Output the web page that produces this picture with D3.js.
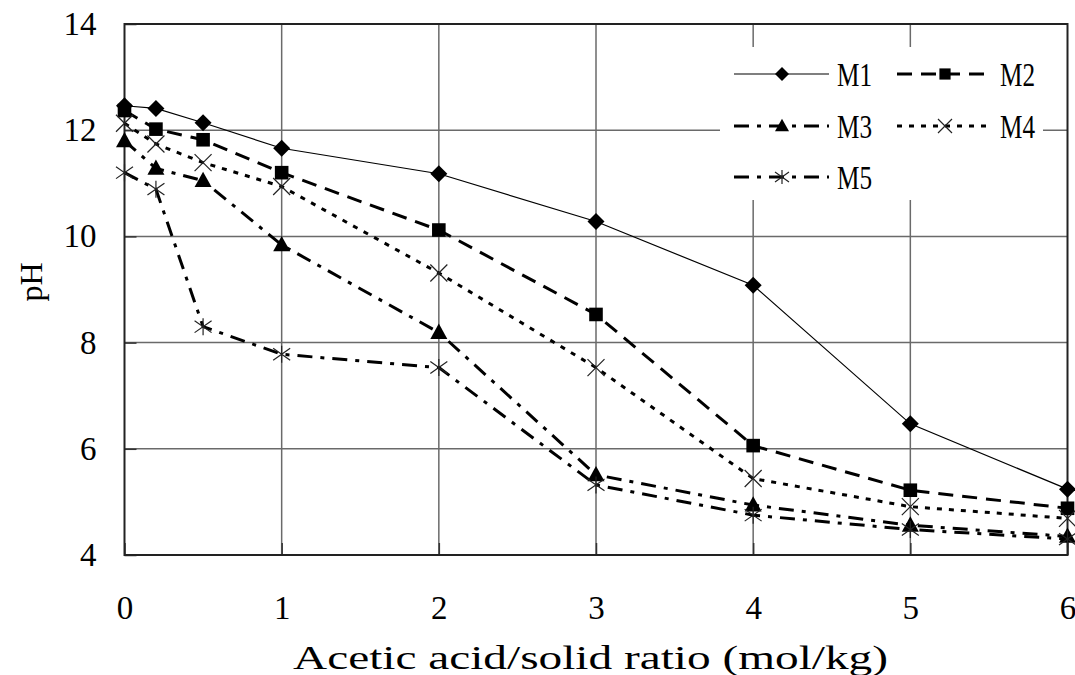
<!DOCTYPE html>
<html>
<head>
<meta charset="utf-8">
<script src="https://cdn.jsdelivr.net/npm/d3@7"></script>
<style>
  body { margin: 0; background: #fff; }
  text { font-family: "Liberation Serif", serif; fill: #000; }
</style>
</head>
<body>
<div id="chart"></div>
<script>
// data
const ratios = [0, 0.2, 0.5, 1, 2, 3, 4, 5, 6];
const seriesNames = ["M1", "M2", "M3", "M4", "M5"];
const m1 = [12.46, 12.41, 12.14, 11.66, 11.18, 10.28, 9.08, 6.47, 5.24];
const m2 = [12.37, 12.02, 11.82, 11.2, 10.12, 8.53, 6.06, 5.22, 4.88];
const m3 = [11.8, 11.28, 11.05, 9.84, 8.19, 5.51, 4.94, 4.56, 4.35];
const m4 = [12.13, 11.74, 11.39, 10.94, 9.31, 7.53, 5.44, 4.91, 4.69];
const m5 = [11.2, 10.89, 8.3, 7.78, 7.53, 5.32, 4.75, 4.48, 4.3];
const xTicks = [0, 1, 2, 3, 4, 5, 6];
const yTicks = [4, 6, 8, 10, 12, 14];

const width = 1075, height = 675;
const svg = d3.select("#chart").append("svg")
    .attr("width", width)
    .attr("height", height);

const x = d3.scaleLinear().domain([0, 6]).range([124.5, 1067.5]);
const y = d3.scaleLinear().domain([4, 14]).range([555, 24]);

/***GRID***/
const grid = svg.append("g").attr("stroke", "#6a6a6a").attr("stroke-width", 1.5);
grid.selectAll("line.v")
    .data(xTicks.slice(1, -1))
    .enter().append("line")
    .attr("x1", d => x(d)).attr("x2", d => x(d))
    .attr("y1", y(14)).attr("y2", y(4));
grid.selectAll("line.h")
    .data(yTicks.slice(1, -1))
    .enter().append("line")
    .attr("x1", x(0)).attr("x2", x(6))
    .attr("y1", d => y(d)).attr("y2", d => y(d));

/***AXES***/
const xAxis = svg.append("g")
    .attr("transform", "translate(0," + y(4) + ")")
    .call(d3.axisBottom(x).tickValues(xTicks).tickFormat(d3.format("d"))
        .tickSize(-12).tickPadding(41).tickSizeOuter(0));
const yAxis = svg.append("g")
    .attr("transform", "translate(" + x(0) + ",0)")
    .call(d3.axisLeft(y).tickValues(yTicks).tickFormat(d3.format("d"))
        .tickSize(-12).tickPadding(28).tickSizeOuter(0));
[xAxis, yAxis].forEach(function (a) {
    a.selectAll("text").attr("font-family", "Liberation Serif").attr("font-size", 33).attr("fill", "#000");
    a.selectAll(".tick line").attr("stroke", "#333").attr("stroke-width", 1.5);
    a.select(".domain").remove();
});

svg.append("rect")
    .attr("x", x(0)).attr("y", y(14))
    .attr("width", x(6) - x(0)).attr("height", y(4) - y(14))
    .attr("fill", "none").attr("stroke", "#222").attr("stroke-width", 2);

svg.append("text")
    .attr("x", 293).attr("y", 669)
    .attr("font-size", 33)
    .attr("textLength", 595).attr("lengthAdjust", "spacingAndGlyphs")
    .text("Acetic acid/solid ratio (mol/kg)");

svg.append("text")
    .attr("transform", "translate(42,282) rotate(-90)")
    .attr("text-anchor", "middle")
    .attr("font-size", 32)
    .text("pH");

/***MARKERS***/
function marker(kind, s) {
    const h = s / 2;
    if (kind === "diamond") return "M0," + (-h) + "L" + h + ",0L0," + h + "L" + (-h) + ",0Z";
    if (kind === "square") { const q = h * 0.8; return "M" + (-q) + "," + (-q) + "H" + q + "V" + q + "H" + (-q) + "Z"; }
    if (kind === "triangle") return "M0," + (-h * 1.05) + "L" + h + "," + (h * 0.75) + "L" + (-h) + "," + (h * 0.75) + "Z";
    if (kind === "cross") return "M" + (-h) + "," + (-h) + "L" + h + "," + h + "M" + h + "," + (-h) + "L" + (-h) + "," + h;
    // asterisk
    return "M" + (-h) + "," + (-h * 0.7) + "L" + h + "," + (h * 0.7) + "M" + h + "," + (-h * 0.7) + "L" + (-h) + "," + (h * 0.7) +
        "M0," + (-h) + "V" + h;
}

const series = [
    {name: seriesNames[0], values: m1, mk: "diamond", dash: null, w: 1.2},
    {name: seriesNames[1], values: m2, mk: "square", dash: "15,9", w: 3},
    {name: seriesNames[2], values: m3, mk: "triangle", dash: "15,8,4,8", w: 3},
    {name: seriesNames[3], values: m4, mk: "cross", dash: "5,7", w: 3},
    {name: seriesNames[4], values: m5, mk: "asterisk", dash: "15,8,4,8", w: 3}
];

function drawMarker(g, kind, cx, cy, s) {
    const filled = kind === "diamond" || kind === "square" || kind === "triangle";
    g.append("path")
        .attr("transform", "translate(" + cx + "," + cy + ")")
        .attr("d", marker(kind, s))
        .attr("fill", filled ? "#000" : "none")
        .attr("stroke", filled ? "none" : "#222")
        .attr("stroke-width", 1.2);
}

const line = d3.line().x(d => x(d[0])).y(d => y(d[1]));

const plot = svg.append("g");
series.forEach(function (s) {
    const pts = ratios.map((r, i) => [r, s.values[i]]);
    plot.append("path")
        .attr("d", line(pts))
        .attr("fill", "none")
        .attr("stroke", "#000")
        .attr("stroke-width", s.w)
        .attr("stroke-dasharray", s.dash);
});
series.forEach(function (s) {
    ratios.forEach(function (r, i) {
        drawMarker(plot, s.mk, x(r), y(s.values[i]), 17);
    });
});

/***LEGEND***/
const legend = svg.append("g");
legend.append("rect")
    .attr("x", 720).attr("y", 47).attr("width", 323).attr("height", 153)
    .attr("fill", "#fff");
const legPos = [[734, 74], [897, 74], [734, 126], [897, 126], [734, 177]];
series.forEach(function (s, i) {
    const lx = legPos[i][0], ly = legPos[i][1];
    legend.append("line")
        .attr("x1", lx).attr("x2", lx + 95)
        .attr("y1", ly).attr("y2", ly)
        .attr("stroke", "#000")
        .attr("stroke-width", s.w)
        .attr("stroke-dasharray", s.dash);
    drawMarker(legend, s.mk, lx + 48, ly, 14);
    legend.append("text")
        .attr("x", lx + 103).attr("y", ly + 12)
        .attr("font-size", 33)
        .attr("textLength", 35).attr("lengthAdjust", "spacingAndGlyphs")
        .text(s.name);
});
</script>
</body>
</html>
